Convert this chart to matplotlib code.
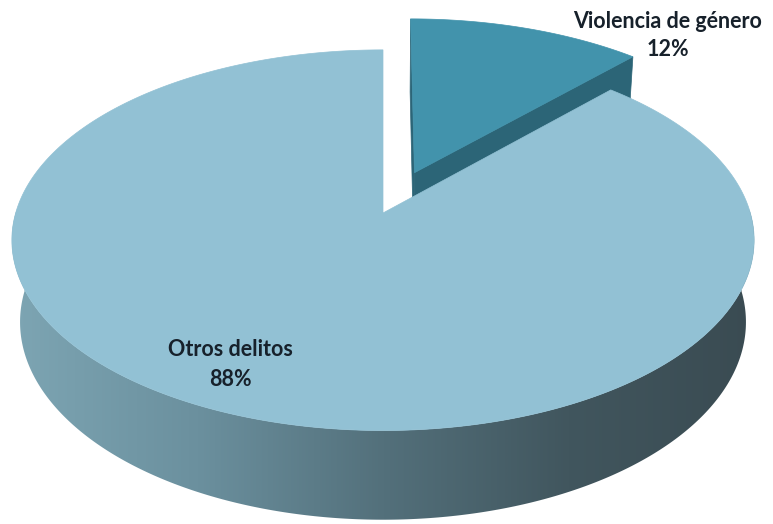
import numpy as np
import matplotlib.pyplot as plt
from matplotlib.patches import Polygon
from matplotlib.colors import LinearSegmentedColormap

# data
labels = ['Violencia de género', 'Otros delitos']
values = [12, 88]
pct_text = ['12%', '88%']

# styles
top_colors = ['#4293ac', '#92c1d4']
cut_color = '#2c6577'
wall_cmap = LinearSegmentedColormap.from_list(
    'wall', ['#7da5b3', '#6b909e', '#53707b', '#41565e', '#3a4b52'])
text_color = '#17212b'

# 3d pie geometry (unit radius disk seen in perspective)
tilt = np.radians(30.5)
cam_dist = 6.03
focal = 2215.0
thickness = 0.263
explode = [0.24, 0.0]
origin = (383, 213)


def project(x, y, z):
    s, c = np.sin(tilt), np.cos(tilt)
    v = y * s + z * c
    w = cam_dist + y * c - z * s
    return origin[0] + focal * x / w, origin[1] - focal * v / w


def rim(t, z, off=(0, 0), r=1.0):
    x = off[0] + r * np.cos(t)
    y = off[1] + r * np.sin(t)
    return np.column_stack(project(x, y, np.full_like(t, z)))


fig = plt.figure(figsize=(7.73, 5.24), dpi=100)
ax = fig.add_axes([0, 0, 1, 1])
ax.axis('off')

# slice angles, first slice starts at 12 o'clock and goes clockwise
fracs = np.array(values) / sum(values)
angles = []
start = 90.0
for f in fracs:
    end = start - 360 * f
    angles.append((np.radians(end), np.radians(start)))
    start = end

# --- small (exploded) slice, drawn first as it sits behind ---
t0, t1 = angles[0]
mid = (t0 + t1) / 2
off = (explode[0] * np.cos(mid), explode[0] * np.sin(mid))
# cut faces
for t in (t0, t1):
    face = np.array([project(off[0], off[1], 0),
                     project(off[0] + np.cos(t), off[1] + np.sin(t), 0),
                     project(off[0] + np.cos(t), off[1] + np.sin(t), -thickness),
                     project(off[0], off[1], -thickness)])
    ax.add_patch(Polygon(face, closed=True, fc=cut_color, ec=cut_color, lw=0.5))
ts = np.linspace(t0, t1, 100)
top = np.vstack([[project(off[0], off[1], 0)], rim(ts, 0, off)])
ax.add_patch(Polygon(top, closed=True, fc=top_colors[0], ec=top_colors[0], lw=0.5))

# --- big slice ---
t0, t1 = angles[1]
# visible outer wall (front half) with a left-to-right shade
tw = np.linspace(np.radians(-181), np.radians(1), 300)
wall = np.vstack([rim(tw, 0), rim(tw[::-1], -thickness)])
wall_patch = Polygon(wall, closed=True, fc='none', ec='none')
ax.add_patch(wall_patch)
grad = np.linspace(0, 1, 512).reshape(1, -1)
im = ax.imshow(grad, cmap=wall_cmap, aspect='auto', interpolation='bilinear',
               extent=(wall[:, 0].min(), wall[:, 0].max(),
                       wall[:, 1].max(), wall[:, 1].min()))
im.set_clip_path(wall_patch)
ts = np.linspace(t0, t1, 400)
top = np.vstack([[project(0, 0, 0)], rim(ts, 0)])
ax.add_patch(Polygon(top, closed=True, fc=top_colors[1], ec=top_colors[1], lw=0.5))
ax.set_xlim(0, 773)
ax.set_ylim(524, 0)

# labels
font = dict(family=['Lato', 'DejaVu Sans'], fontweight='bold', fontsize=15.5,
            color=text_color, ha='center', va='center')
ax.text(668, 21, labels[0], **font)
ax.text(668, 49, pct_text[0], **font)
ax.text(230, 350, labels[1], **font)
ax.text(230, 379, pct_text[1], **font)

fig.savefig('out.png', dpi=100)
